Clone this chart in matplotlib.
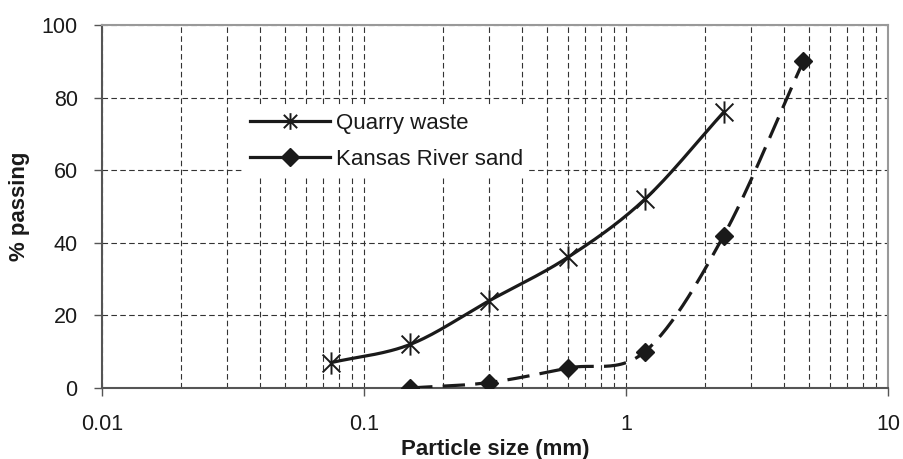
import numpy as np
import matplotlib.pyplot as plt
from matplotlib.path import Path
from matplotlib.ticker import FixedLocator, NullFormatter

plt.rcParams['font.family'] = ['Liberation Sans', 'DejaVu Sans']

# sieve sizes (mm) and % passing
quarry_size = [0.075, 0.15, 0.3, 0.6, 1.18, 2.36]
quarry_pass = [7, 12, 24, 36, 52, 76]
sand_size = [0.15, 0.3, 0.6, 1.18, 2.36, 4.75]
sand_pass = [0, 1.5, 5.5, 10, 42, 90]

x_ticks = [0.01, 0.1, 1, 10]
x_labels = ["0.01", "0.1", "1", "10"]
y_ticks = [0, 20, 40, 60, 80, 100]


def smooth(xs, ys, n=30):
    # Catmull-Rom through the points in (log x, y) screen-like space
    u = np.log10(xs) / 3.0 * 786
    v = np.asarray(ys, float) / 100.0 * 363
    P = np.column_stack([u, v])
    P = np.vstack([2 * P[0] - P[1], P, 2 * P[-1] - P[-2]])
    out = []
    for i in range(1, len(P) - 2):
        p0, p1, p2, p3 = P[i - 1], P[i], P[i + 1], P[i + 2]
        t = np.linspace(0, 1, n)[:, None]
        seg = 0.5 * ((2 * p1) + (-p0 + p2) * t + (2 * p0 - 5 * p1 + 4 * p2 - p3) * t ** 2
                     + (-p0 + 3 * p1 - 3 * p2 + p3) * t ** 3)
        out.append(seg)
    out = np.vstack(out)
    return 10 ** (out[:, 0] / 786 * 3.0), out[:, 1] / 363 * 100


star = Path([(0, -1), (0, 1), (-0.8, -0.8), (0.8, 0.8), (-0.8, 0.8), (0.8, -0.8)],
            [Path.MOVETO, Path.LINETO, Path.MOVETO, Path.LINETO, Path.MOVETO, Path.LINETO])

fig = plt.figure(figsize=(9.04, 4.59), dpi=100)
ax = fig.add_axes([102 / 904, 1 - 388 / 459, 786 / 904, 363 / 459])
ax.set_xscale('log')
ax.set_xlim(0.01, 10)
ax.set_ylim(0, 100)

ax.xaxis.set_major_locator(FixedLocator(x_ticks))
ax.set_xticklabels(x_labels)
minors = [m * 10.0 ** e for e in (-2, -1, 0) for m in range(2, 10)]
ax.xaxis.set_minor_locator(FixedLocator(minors))
ax.xaxis.set_minor_formatter(NullFormatter())
ax.set_yticks(y_ticks)

ax.grid(True, which='both', axis='x', color='#333333', ls=(0, (5, 3)), lw=0.8)
ax.grid(True, which='major', axis='y', color='#333333', ls=(0, (5, 3)), lw=0.8)
ax.tick_params(axis='both', which='major', direction='out', length=5.5, width=1,
               color='#555555', labelsize=15.5, labelcolor='#1a1a1a')
ax.tick_params(axis='x', which='major', pad=13)
ax.tick_params(axis='y', which='major', pad=12)
ax.tick_params(axis='x', which='minor', length=0)
for s in ('left', 'bottom'):
    ax.spines[s].set_color('#555555')
    ax.spines[s].set_linewidth(1.5)
for s in ('top', 'right'):
    ax.spines[s].set_color('#999999')
    ax.spines[s].set_linewidth(1.5)

qx, qy = smooth(quarry_size, quarry_pass)
sx, sy = smooth(sand_size, sand_pass)
ax.plot(qx, qy, color='#1a1a1a', lw=2.3, zorder=3)
ax.plot(quarry_size, quarry_pass, ls='none', marker=star, ms=16, mew=1.4,
        mec='#1a1a1a', mfc='none', zorder=4)
ax.plot(sx, sy, color='#1a1a1a', lw=2.3, ls=(0, (7, 3.2)), zorder=3)
ax.plot(sand_size, sand_pass, ls='none', marker='D', ms=9, color='#1a1a1a', zorder=4)

# legend samples
h1, = ax.plot([], [], color='#1a1a1a', lw=2.3, marker=star, ms=12, mew=1.4, mfc='none')
h2, = ax.plot([], [], color='#1a1a1a', lw=2.3, marker='D', ms=9)
leg = ax.legend([h1, h2], ["Quarry waste", "Kansas River sand"], loc='upper left',
                bbox_to_anchor=((243 - 102) / 786, (388 - 106) / 363), borderaxespad=0,
                frameon=True, fancybox=False, edgecolor='none', facecolor='white',
                framealpha=1, fontsize=16, handlelength=3.6, handletextpad=0.27,
                labelspacing=0.7, borderpad=0.3)
for t in leg.get_texts():
    t.set_color('#1a1a1a')

ax.set_xlabel("Particle size (mm)", fontsize=16, fontweight='bold', labelpad=3,
              color='#1a1a1a')
ax.set_ylabel("% passing", fontsize=16, fontweight='bold', labelpad=8, color='#1a1a1a')

fig.savefig('out.png', dpi=100)
